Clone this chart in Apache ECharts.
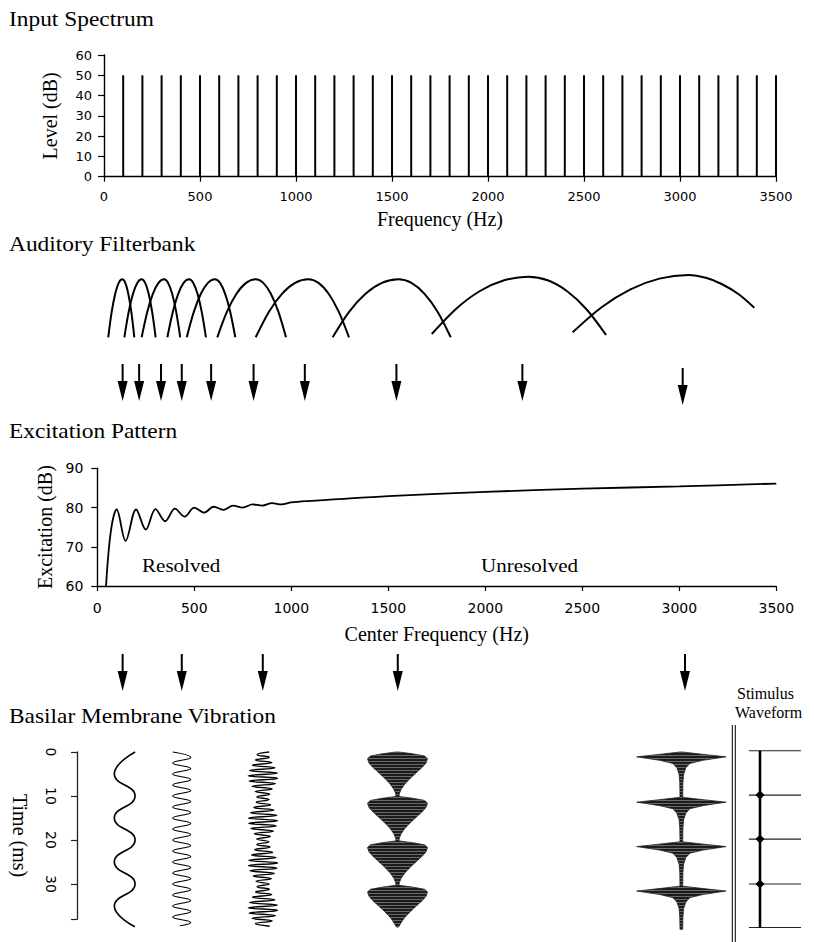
<!DOCTYPE html>
<html><head><meta charset="utf-8">
<script src="https://cdn.jsdelivr.net/npm/echarts@6/dist/echarts.min.js"></script>
<style>html,body{margin:0;padding:0;background:#fff}#c{width:814px;height:942px}</style>
</head><body><div id="c"></div>
<script>
// ---------------- DATA ----------------
// Input spectrum: harmonics of 100 Hz, equal level
const spectrumFreq = [100,200,300,400,500,600,700,800,900,1000,1100,1200,1300,1400,1500,1600,1700,1800,1900,2000,2100,2200,2300,2400,2500,2600,2700,2800,2900,3000,3100,3200,3300,3400,3500];
const spectrumLevel = [50,50,50,50,50,50,50,50,50,50,50,50,50,50,50,50,50,50,50,50,50,50,50,50,50,50,50,50,50,50,50,50,50,50,50];
const freqTicks = [0,500,1000,1500,2000,2500,3000,3500];
const levelTicks = [0,10,20,30,40,50,60];

// Auditory filterbank: each filter shape read as [Hz, relative response]
const filterbankCurves = [
  [[22,2.7],[40,28.1],[58.5,46.2],[76.8,57.1],[95,60.7],[110.8,57.1],[126.5,46.2],[142.3,28.1],[158,2.7]],
  [[106,2.7],[128.5,28.1],[151,46.2],[173.5,57.1],[196,60.7],[214.3,57.1],[232.5,46.2],[250.8,28.1],[269,2.7]],
  [[196,2.7],[225.3,28.1],[254.5,46.2],[283.8,57.1],[313,60.7],[334,57.1],[355,46.2],[376,28.1],[397,2.7]],
  [[330,2.7],[358.3,28.1],[386.5,46.2],[414.8,57.1],[443,60.7],[465,57.1],[487,46.2],[509,28.1],[531,2.7]],
  [[431,2.7],[467.8,28.1],[504.5,46.2],[541.3,57.1],[578,60.7],[604.5,57.1],[631,46.2],[657.5,28.1],[684,2.7]],
  [[590,2.7],[640,28.1],[690,46.2],[740,57.1],[790,60.7],[829.5,57.1],[869,46.2],[908.5,28.1],[948,2.7]],
  [[790,2.7],[858.5,28.1],[927,46.2],[995.5,57.1],[1064,60.7],[1117,57.1],[1170,46.2],[1223,28.1],[1276,2.7]],
  [[1191,2.7],[1276.5,28.1],[1362,46.2],[1447.5,57.1],[1533,60.7],[1601,57.1],[1669.5,46.2],[1738,28.1],[1806,2.7]],
  [[1707,6],[1833,31.1],[1958.5,49],[2084,59.7],[2210,63.3],[2311,59.7],[2412.5,48.7],[2514,30.5],[2615,5]],
  [[2441,7.7],[2591.5,32.8],[2742,50.7],[2892.5,61.4],[3043,65],[3139,62],[3217,56],[3304,46],[3387,32.3]]
];
// arrows from filters to excitation pattern
const arrowRow1Freq = [97,183,297,405,558,779,1046,1523,2179,3014];
const arrowRow1Pos  = [0.5,0.5,0.5,0.5,0.5,0.5,0.5,0.5,0.5,0.41];
// excitation pattern
const excFreq  = [45,70,100,146,200,250,300,350,400,450,500,550,600,650,700,750,800,850,900,950,1000,1100,1200,1500,2000,2500,3000,3500];
const excLevel = [60,74,79.5,71.5,79.5,74.4,79.6,76.5,79.7,77.7,80.0,78.7,80.2,79.4,80.5,80.0,80.8,80.5,81.1,80.8,81.3,81.7,82.0,82.9,84.0,84.8,85.4,86.1];
const excTicks = [60,70,80,90];
// arrows from excitation pattern to BM vibration
const arrowRow2Freq = [97,405,827,1530,3026];
const arrowRow2Pos  = [0.5,0.5,0.5,0.5,0.5];
// Basilar membrane vibration (time in ms, displacement normalised per column)
const timeTicks = [0,10,20,30];
const bm1Time = [0,5,10,15,20,25,30,35,39.7];
const bm1Disp = [1,-1,1,-1,1,-1,1,-1,0.98];
const bm2Time = [0,1.25,2.5,3.75,5,6.25,7.5,8.75,10,11.25,12.5,13.75,15,16.25,17.5,18.75,20,21.25,22.5,23.75,25,26.25,27.5,28.75,30,31.25,32.5,33.75,35,36.25,37.5,38.75,39.5];
const bm2Disp = [-1,1,-1,1,-1,1,-1,1,-1,1,-1,1,-1,1,-1,1,-1,1,-1,1,-1,1,-1,1,-1,1,-1,1,-1,1,-1,1,-0.2];
const bm3Time = [0,0.6,1.2,1.8,2.4,3.0,3.6,4.2,4.8,5.4,6.0,6.6,7.2,7.8,8.4,9.0,9.6,10.2,10.8,11.4,12.0,12.6,13.2,13.8,14.4,15.0,15.6,16.2,16.8,17.4,18.0,18.6,19.2,19.8,20.4,21.0,21.6,22.2,22.8,23.4,24.0,24.6,25.2,25.8,26.4,27.0,27.6,28.2,28.8,29.4,30.0,30.6,31.2,31.8,32.4,33.0,33.6,34.2,34.8,35.4,36.0,36.6,37.2,37.8,38.4,39.0,39.6];
const bm3Disp = [0.415,-0.40,0.43,-0.50,0.59,-0.70,0.81,-0.90,0.97,-1.00,0.99,-0.94,0.84,-0.74,0.62,-0.52,0.45,-0.41,0.41,-0.45,0.52,-0.62,0.74,-0.84,0.94,-0.99,1.00,-0.97,0.90,-0.81,0.70,-0.59,0.50,-0.43,0.40,-0.415,0.47,-0.56,0.66,-0.77,0.88,-0.95,0.995,-0.995,0.95,-0.88,0.77,-0.66,0.56,-0.47,0.415,-0.40,0.43,-0.50,0.59,-0.70,0.81,-0.90,0.97,-1.00,0.99,-0.94,0.84,-0.74,0.62,-0.52,0.45];
// dense channels drawn by their envelope (half-width, normalised)
const bm4Time = [0,0.4,0.9,1.5,2.5,3.5,4.5,5.5,6.5,7.5,8.5,9.5,10.1,10.5,11.0,11.6,12.6,13.6,14.6,15.6,16.6,17.6,18.6,19.6,20.2,20.6,21.1,21.7,22.7,23.7,24.7,25.7,26.7,27.7,28.7,29.7,30.3,30.7,31.2,31.8,32.8,33.8,34.8,35.8,36.8,37.8,38.8,39.5,39.8];
const bm4Env  = [0.05,0.5,0.9,1.0,0.95,0.82,0.66,0.5,0.35,0.22,0.12,0.06,0.05,0.5,0.9,1.0,0.95,0.82,0.66,0.5,0.35,0.22,0.12,0.06,0.05,0.5,0.9,1.0,0.95,0.82,0.66,0.5,0.35,0.22,0.12,0.06,0.05,0.5,0.9,1.0,0.95,0.82,0.66,0.5,0.35,0.22,0.12,0.06,0.03];
const bm5Time = [0,0.55,1.1,1.4,1.9,2.6,3.6,5.1,7.0,10.3,10.85,11.4,11.7,12.2,12.9,13.9,15.4,17.3,20.4,20.95,21.5,21.8,22.3,23.0,24.0,25.5,27.4,30.5,31.05,31.6,31.9,32.4,33.1,34.1,35.6,37.5,40.3];
const bm5Env  = [0.03,0.5,1.0,0.8,0.48,0.19,0.1,0.05,0.035,0.03,0.5,1.0,0.8,0.48,0.19,0.1,0.05,0.035,0.03,0.5,1.0,0.8,0.48,0.19,0.1,0.05,0.035,0.03,0.5,1.0,0.8,0.48,0.19,0.1,0.05,0.035,0.03];
// stimulus waveform (pulse train)
const stimPulseTime = [-0.3,9.8,19.8,30.0,39.9];
const stimPulseMin = -0.27, stimPulseMax = 1;
const stimLineTime = [-0.3,39.9];
const stimBlobTime = [9.8,19.8,30.0];

// ---------------- CHART ----------------
const SERIF = '"Liberation Serif","Times New Roman",serif';
const SANS = '"DejaVu Sans",sans-serif';
const K = '#000';
const chart = echarts.init(document.getElementById('c'), null, {renderer:'svg'});

// striped fill imitating the dense oscillation strokes
const pat = document.createElement('canvas');
pat.width = 4; pat.height = 3;
(function(){ const g = pat.getContext('2d');
  g.fillStyle = '#1c1c1c'; g.fillRect(0,0,4,3);
  g.fillStyle = '#6a6a6a'; g.fillRect(0,2,4,1); })();
const stripe = {image: pat, repeat: 'repeat'};

const grids = [
  {left:104, top:55, width:672, height:121.7},      // 0 spectrum
  {left:104, top:270, width:672, height:70},        // 1 filterbank
  {left:104, top:360, width:672, height:45},        // 2 arrows row 1
  {left:97.3, top:468.3, width:679, height:117.7},  // 3 excitation
  {left:104, top:650, width:672, height:45},        // 4 arrows row 2
  {left:77, top:752, width:10, height:167.2},       // 5 time axis
  {left:114.3, top:747.6, width:20.8, height:184.8},// 6 bm1
  {left:172.7, top:747.6, width:18, height:184.8},  // 7 bm2
  {left:248.2, top:747.6, width:29.6, height:184.8},// 8 bm3
  {left:367.5, top:747.6, width:60, height:184.8},  // 9 bm4
  {left:636.7, top:747.6, width:89.3, height:184.8},// 10 bm5
  {left:747.7, top:747.6, width:53.3, height:184.8} // 11 stimulus
].map(g => Object.assign({containLabel:false, outerBoundsMode:'none'}, g));

function hidden(gi, min, max, inverse){
  return {gridIndex:gi, type:'value', min:min, max:max, inverse:!!inverse, show:false, splitLine:{show:false}};
}
const plain = v => String(v);
const tickLabel = (size, margin, vals) => ({color:K, fontFamily:SANS, fontSize:size, margin:margin, formatter:plain, customValues:vals});
const axisLine = {show:true, onZero:false, lineStyle:{color:K, width:1.4}};

const xAxes = [
  {gridIndex:0, type:'value', min:0, max:3500, interval:500, axisLine:axisLine,
   axisTick:{show:true, length:5, lineStyle:{color:K, width:1.2}},
   axisLabel:tickLabel(13,13,freqTicks), splitLine:{show:false},
   name:'Frequency (Hz)', nameLocation:'middle', nameGap:32, nameMoveOverlap:false,
   nameTextStyle:{fontFamily:SERIF, fontSize:20, color:K}},
  hidden(1,0,3500), hidden(2,0,3500),
  {gridIndex:3, type:'value', min:0, max:3500, interval:500, axisLine:axisLine,
   axisTick:{show:true, length:5, lineStyle:{color:K, width:1.2}},
   axisLabel:tickLabel(14,15,freqTicks), splitLine:{show:false},
   name:'Center Frequency (Hz)', nameLocation:'middle', nameGap:38, nameMoveOverlap:false,
   nameTextStyle:{fontFamily:SERIF, fontSize:20, color:K}},
  hidden(4,0,3500), hidden(5,0,1),
  hidden(6,-1,1), hidden(7,-1,1), hidden(8,-1,1), hidden(9,-1,1), hidden(10,-1,1),
  hidden(11,-0.3,1)
];
const yAxes = [
  {gridIndex:0, type:'value', min:0, max:60, interval:10, axisLine:axisLine,
   axisTick:{show:true, length:6, lineStyle:{color:K, width:1.2}},
   axisLabel:tickLabel(13,12,levelTicks), splitLine:{show:false},
   name:'Level (dB)', nameLocation:'middle', nameGap:44, nameMoveOverlap:false,
   nameTextStyle:{fontFamily:SERIF, fontSize:20, color:K}},
  hidden(1,0,70), hidden(2,0,1),
  {gridIndex:3, type:'value', min:60, max:90, interval:10, axisLine:axisLine,
   axisTick:{show:true, length:6, lineStyle:{color:K, width:1.2}},
   axisLabel:tickLabel(14,14,excTicks), splitLine:{show:false},
   name:'Excitation (dB)', nameLocation:'middle', nameGap:42, nameMoveOverlap:false,
   nameTextStyle:{fontFamily:SERIF, fontSize:20, color:K}},
  hidden(4,0,1),
  {gridIndex:5, type:'value', min:0, max:38, interval:10, inverse:true,
   axisLine:{show:true, onZero:false, lineStyle:{color:'#222', width:1.3}},
   axisTick:{show:true, length:6, lineStyle:{color:'#222', width:1.2}},
   axisLabel:Object.assign(tickLabel(14,19,timeTicks),{rotate:-90}), splitLine:{show:false},
   name:'Time (ms)', nameLocation:'middle', nameGap:47, nameRotate:-90, nameMoveOverlap:false,
   nameTextStyle:{fontFamily:SERIF, fontSize:20, color:K}},
  hidden(6,-1,41,true), hidden(7,-1,41,true), hidden(8,-1,41,true),
  hidden(9,-1,41,true), hidden(10,-1,41,true), hidden(11,-1,41,true)
];

const series = [];
// spectrum lines
series.push({type:'bar', xAxisIndex:0, yAxisIndex:0, barWidth:2, silent:true,
  itemStyle:{color:K}, data:spectrumFreq.map((f,i)=>[f, spectrumLevel[i]])});
// filterbank
filterbankCurves.forEach(c => series.push({type:'line', xAxisIndex:1, yAxisIndex:1, data:c,
  smooth:0.3, symbol:'none', clip:false, silent:true, lineStyle:{color:K, width:2}}));
// arrows
const ARROW = 'path://M4,0 L6,0 L6,17 L10,17 L5,37 L0,17 L4,17 Z';
series.push({type:'scatter', xAxisIndex:2, yAxisIndex:2, symbol:ARROW, symbolSize:[10,37], silent:true,
  itemStyle:{color:K, opacity:1}, data:arrowRow1Freq.map((f,i)=>[f, arrowRow1Pos[i]])});
series.push({type:'scatter', xAxisIndex:4, yAxisIndex:4, symbol:ARROW, symbolSize:[10,37], silent:true,
  itemStyle:{color:K, opacity:1}, data:arrowRow2Freq.map((f,i)=>[f, arrowRow2Pos[i]])});
// excitation pattern
series.push({type:'line', xAxisIndex:3, yAxisIndex:3, smooth:0.35, symbol:'none', silent:true,
  lineStyle:{color:K, width:1.8}, data:excFreq.map((f,i)=>[f, excLevel[i]])});
// BM waveforms
function wave(gi, T, D, w){
  return {type:'line', xAxisIndex:gi, yAxisIndex:gi, smooth:0.5, symbol:'none', clip:false, silent:true,
    lineStyle:{color:K, width:w}, data:T.map((t,i)=>[D[i], t])};
}
series.push(wave(6, bm1Time, bm1Disp, 1.6));
series.push(wave(7, bm2Time, bm2Disp, 1.1));
series.push(wave(8, bm3Time, bm3Disp, 1.4));
function envelope(gi, T, E){
  return {type:'custom', xAxisIndex:gi, yAxisIndex:gi, coordinateSystem:'cartesian2d', silent:true, clip:false,
    data:[[0,0]],
    renderItem:function(params, api){
      const pts = [];
      for (let i=0;i<T.length;i++) pts.push(api.coord([E[i], T[i]]));
      for (let i=T.length-1;i>=0;i--) pts.push(api.coord([-E[i], T[i]]));
      return {type:'polygon', shape:{points:pts}, style:{fill:stripe, stroke:'#222', lineWidth:0.8}};
    }};
}
series.push(envelope(9, bm4Time, bm4Env));
series.push(envelope(10, bm5Time, bm5Env));
// stimulus waveform
series.push({type:'line', xAxisIndex:11, yAxisIndex:11, symbol:'none', clip:false, silent:true,
  lineStyle:{color:K, width:2.6}, data:stimLineTime.map(t=>[0,t])});
series.push({type:'custom', xAxisIndex:11, yAxisIndex:11, coordinateSystem:'cartesian2d', silent:true, clip:false,
  data:stimPulseTime.map(t=>[0,t]),
  renderItem:function(params, api){
    const t = api.value(1);
    const a = api.coord([stimPulseMin, t]), b = api.coord([stimPulseMax, t]);
    return {type:'line', shape:{x1:a[0], y1:a[1], x2:b[0], y2:b[1]}, style:{stroke:'#222', lineWidth:1.1}};
  }});
series.push({type:'scatter', xAxisIndex:11, yAxisIndex:11, symbol:'diamond', symbolSize:[9,9], silent:true,
  itemStyle:{color:K, opacity:1}, data:stimBlobTime.map(t=>[0,t])});

function txt(x, y, s, size, sx){
  return {type:'text', x:x, y:y, scaleX:sx||1, silent:true,
    style:{text:s, x:0, y:0, fill:K, font:size+'px '+SERIF, textAlign:'left', textVerticalAlign:'middle', verticalAlign:'middle'}};
}
const graphic = [
  txt(9, 20, 'Input Spectrum', 20, 1.17),
  txt(9, 245, 'Auditory Filterbank', 20, 1.17),
  txt(9, 432, 'Excitation Pattern', 20, 1.17),
  txt(9, 717, 'Basilar Membrane Vibration', 20, 1.17),
  txt(142, 566, 'Resolved', 18, 1.17),
  txt(481, 566, 'Unresolved', 18, 1.17),
  txt(737, 693, 'Stimulus', 16, 1),
  txt(735, 712, 'Waveform', 16, 1),
  {type:'line', silent:true, shape:{x1:732.3, y1:725, x2:732.3, y2:942}, style:{stroke:K, lineWidth:1}},
  {type:'line', silent:true, shape:{x1:735.3, y1:725, x2:735.3, y2:942}, style:{stroke:K, lineWidth:1}}
];

chart.setOption({
  animation:false,
  backgroundColor:'#fff',
  textStyle:{fontFamily:SANS, color:K},
  grid:grids, xAxis:xAxes, yAxis:yAxes, series:series, graphic:graphic
});
</script></body></html>
